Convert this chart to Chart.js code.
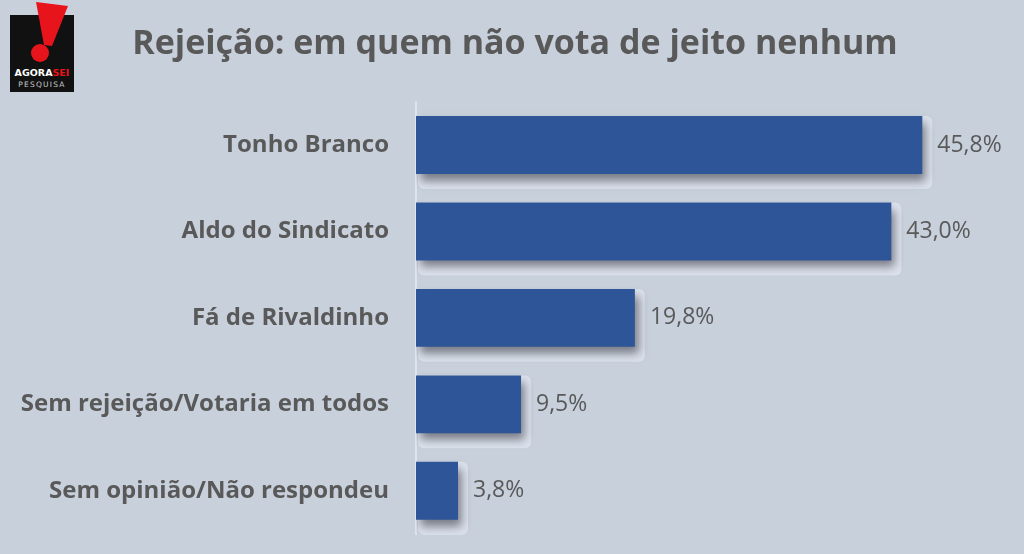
<!DOCTYPE html>
<html>
<head>
<meta charset="utf-8">
<script src="https://cdn.jsdelivr.net/npm/chart.js@4"></script>
<style>
  html, body { margin: 0; padding: 0; background: #c8d0dc; }
  #wrap { position: relative; width: 1024px; height: 554px; }
  #logo { position: absolute; left: 8px; top: 0; }
</style>
</head>
<body>
<div id="wrap">
  <canvas id="bar" width="1024" height="554"></canvas>
  <svg id="logo" width="72" height="94" viewBox="0 0 72 94">
    <rect x="2" y="15" width="64" height="77" fill="#111"/>
    <polygon points="28,2 60,6 44,46 36,45" fill="#e8141c"/>
    <circle cx="32" cy="53" r="9" fill="#e8141c"/>
    <text x="34" y="76" text-anchor="middle" font-family="DejaVu Sans" font-weight="bold" font-size="9.5" fill="#fff">AGORA<tspan fill="#e8141c">SEI</tspan></text>
    <text x="34" y="87" text-anchor="middle" font-family="DejaVu Sans" font-size="7.5" letter-spacing="1.2" fill="#ccc">PESQUISA</text>
  </svg>
</div>
<script>
var categories = ['Tonho Branco', 'Aldo do Sindicato', 'Fá de Rivaldinho', 'Sem rejeição/Votaria em todos', 'Sem opinião/Não respondeu'];
var rejeicao = [45.8, 43.0, 19.8, 9.5, 3.8];
var titulo = 'Rejeição: em quem não vota de jeito nenhum';

// brilho claro atrás das barras + sombra
var sombra = {
    id: 'sombra',
    beforeDatasetDraw: function(chart) {
        var ctx = chart.ctx;
        var meta = chart.getDatasetMeta(0);
        ctx.save();
        ctx.fillStyle = '#dce2ed';
        meta.data.forEach(function(bar) {
            var h = bar.height;
            ctx.beginPath();
            ctx.roundRect(bar.base + 2, bar.y - h / 2, bar.x - bar.base + 8, h + 15, 6);
            ctx.fill();
        });
        ctx.restore();
        ctx.save();
        ctx.shadowColor = 'rgba(40, 40, 50, 0.55)';
        ctx.shadowBlur = 9;
        ctx.shadowOffsetX = 4;
        ctx.shadowOffsetY = 7;
    },
    afterDatasetDraw: function(chart) {
        chart.ctx.restore();
    }
};

// rótulos de valor
var rotulos = {
    id: 'rotulos',
    afterDatasetsDraw: function(chart) {
        var ctx = chart.ctx;
        var meta = chart.getDatasetMeta(0);
        ctx.save();
        ctx.font = '23px "Open Sans"';
        ctx.fillStyle = '#595959';
        ctx.textAlign = 'left';
        ctx.textBaseline = 'middle';
        meta.data.forEach(function(bar, i) {
            var txt = rejeicao[i].toFixed(1).replace('.', ',') + '%';
            ctx.fillText(txt, bar.x + 15, bar.y);
        });
        ctx.restore();
    }
};

var ctx = document.getElementById('bar').getContext('2d');
new Chart(ctx, {
    type: 'bar',
    data: {
        labels: categories,
        datasets: [{
            data: rejeicao,
            backgroundColor: '#2e5597',
            borderWidth: 0,
            categoryPercentage: 1,
            barPercentage: 0.67
        }]
    },
    options: {
        indexAxis: 'y',
        responsive: false,
        animation: false,
        layout: { padding: { left: 6, right: 0, top: 0, bottom: 20 } },
        scales: {
            x: { display: false, min: 0, max: 55 },
            y: {
                grid: { display: false, drawTicks: false },
                border: { display: true, color: '#dfe3ea', width: 2 },
                ticks: {
                    color: '#595959',
                    padding: 27,
                    font: { family: '"Open Sans"', size: 24, weight: 'bold' }
                },
                afterFit: function(scale) {
                    scale.width = 410;
                    scale.paddingTop = 0;
                    scale.paddingBottom = 0;
                }
            }
        },
        plugins: {
            legend: { display: false },
            tooltip: { enabled: false },
            title: {
                display: true,
                text: titulo,
                color: '#595959',
                font: { family: '"Open Sans"', size: 34, weight: 'bold' },
                padding: { top: 24, bottom: 37 }
            }
        }
    },
    plugins: [sombra, rotulos]
});
</script>
</body>
</html>
